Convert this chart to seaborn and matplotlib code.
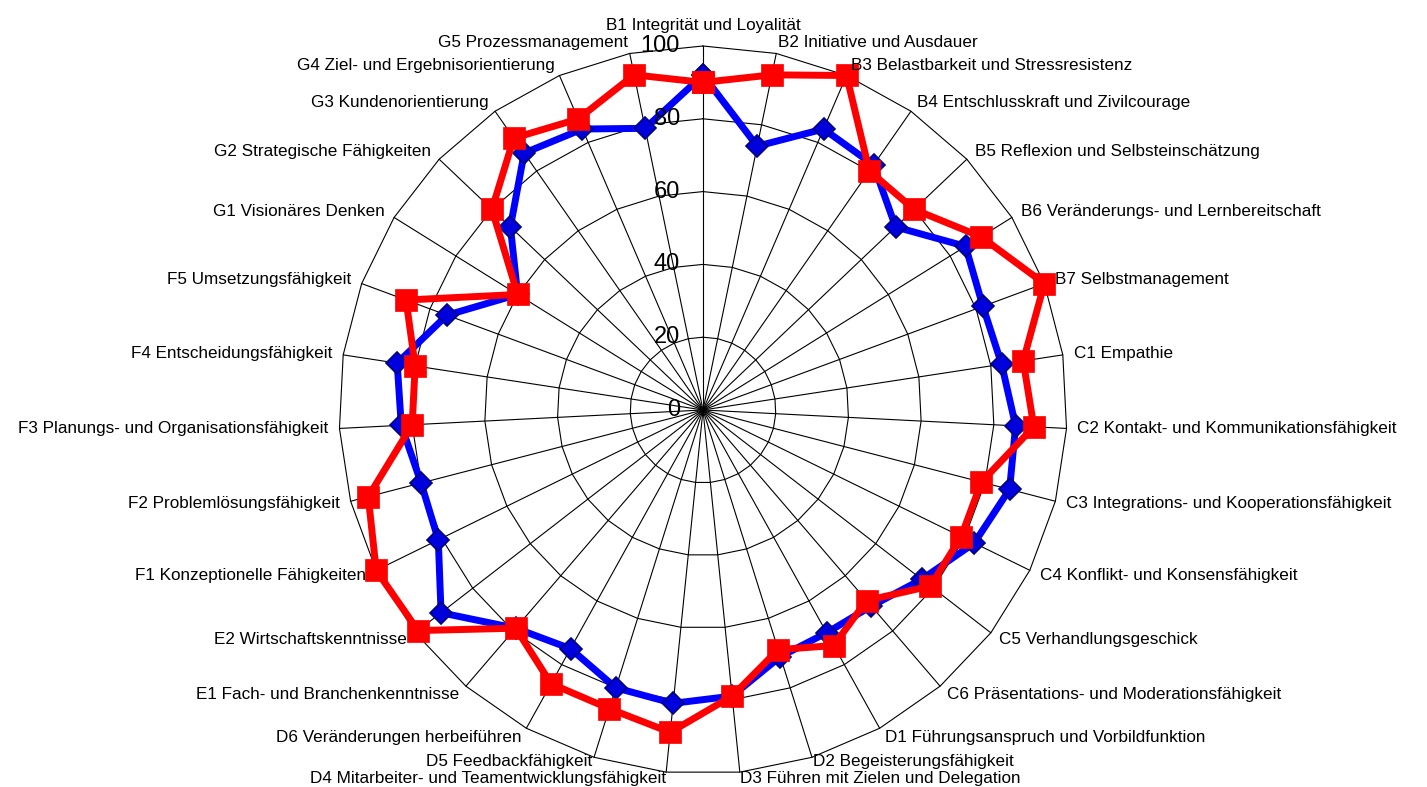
import numpy as np
import pandas as pd
import matplotlib
matplotlib.use("Agg")
import matplotlib.pyplot as plt
import seaborn as sns
from matplotlib.transforms import offset_copy

categories = [
    "B1 Integrität und Loyalität",
    "B2 Initiative und Ausdauer",
    "B3 Belastbarkeit und Stressresistenz",
    "B4 Entschlusskraft und Zivilcourage",
    "B5 Reflexion und Selbsteinschätzung",
    "B6 Veränderungs- und Lernbereitschaft",
    "B7 Selbstmanagement",
    "C1 Empathie",
    "C2 Kontakt- und Kommunikationsfähigkeit",
    "C3 Integrations- und Kooperationsfähigkeit",
    "C4 Konflikt- und Konsensfähigkeit",
    "C5 Verhandlungsgeschick",
    "C6 Präsentations- und Moderationsfähigkeit",
    "D1 Führungsanspruch und Vorbildfunktion",
    "D2 Begeisterungsfähigkeit",
    "D3 Führen mit Zielen und Delegation",
    "D4 Mitarbeiter- und Teamentwicklungsfähigkeit",
    "D5 Feedbackfähigkeit",
    "D6 Veränderungen herbeiführen",
    "E1 Fach- und Branchenkenntnisse",
    "E2 Wirtschaftskenntnisse",
    "F1 Konzeptionelle Fähigkeiten",
    "F2 Problemlösungsfähigkeit",
    "F3 Planungs- und Organisationsfähigkeit",
    "F4 Entscheidungsfähigkeit",
    "F5 Umsetzungsfähigkeit",
    "G1 Visionäres Denken",
    "G2 Strategische Fähigkeiten",
    "G3 Kundenorientierung",
    "G4 Ziel- und Ergebnisorientierung",
    "G5 Prozessmanagement",
]

values_red = [90, 94, 100, 80, 80, 90, 100, 89, 91, 79, 79, 79, 69, 74, 69, 79,
              89, 86, 86, 79, 99, 100, 95, 80, 80, 87, 60, 80, 91, 87, 94]
values_blue = [92, 74, 84, 82, 73, 85, 82, 83, 86, 87, 83, 76, 71, 70, 71, 79,
               81, 80, 75, 79, 91, 81, 80, 83, 85, 75, 60, 73, 86, 84, 79]

r_ticks = [0, 20, 40, 60, 80, 100]
r_tick_labels = ["0", "20", "40", "60", "80", "100"]

sns.set_theme(style="white")
plt.rcParams["font.family"] = ["Liberation Sans", "DejaVu Sans"]

fig = plt.figure(figsize=(14.27, 7.87), dpi=100)
fig.patch.set_facecolor("white")
ax = fig.add_axes([0.23756, 0.01652, 0.51016, 0.92503], projection="polar")
ax.set_theta_zero_location("N")
ax.set_theta_direction(-1)
ax.set_facecolor("white")
ax.grid(False)
ax.spines["polar"].set_visible(False)

n = len(categories)
theta = np.linspace(0, 2 * np.pi, n, endpoint=False)
closed = np.append(theta, 2 * np.pi)

# polygon grid rings
for r in r_ticks[1:]:
    ax.plot(closed, [r] * (n + 1), color="black", lw=0.8, zorder=1, clip_on=False)
# spokes
for t in theta:
    ax.plot([t, t], [0, r_ticks[-1]], color="black", lw=0.8, zorder=1, clip_on=False)

df_blue = pd.DataFrame({"theta": closed, "value": values_blue + [values_blue[0]]})
df_red = pd.DataFrame({"theta": closed, "value": values_red + [values_red[0]]})

sns.lineplot(data=df_blue, x="theta", y="value", ax=ax, sort=False, estimator=None,
             color="#0000FF", lw=5, marker="D", ms=11.5, mfc="#0000DD", mec="#000080",
             mew=1.2, zorder=3, clip_on=False)
sns.lineplot(data=df_red, x="theta", y="value", ax=ax, sort=False, estimator=None,
             color="#FF0000", lw=5, marker="s", ms=16, mfc="#FF0000", mec="#FF0000",
             mew=0.5, zorder=4, clip_on=False)

ax.set_ylim(0, 100)
ax.set_xticks([])
ax.set_yticks([])
ax.set_xlabel("")
ax.set_ylabel("")

# radial tick labels along top spoke
tr = offset_copy(ax.transData, fig=fig, x=-23, y=0, units="dots")
for r, lab in zip(r_ticks, r_tick_labels):
    ax.text(0, r, lab, transform=tr, ha="right", va="center", fontsize=17,
            color="black", zorder=6)

# category labels
for t, lab in zip(theta, categories):
    s, c = np.sin(t), np.cos(t)
    if abs(s) < 0.05:
        ha, va, rr = "center", "bottom", 103.5
    else:
        ha = "left" if s > 0 else "right"
        if c < -0.98:
            va, rr = "top", 99.8
        elif c < -0.94:
            va, rr = "center", 101.3
        else:
            va, rr = "center", 103
    ax.text(t, rr, lab, ha=ha, va=va, fontsize=12.3, color="black", zorder=6)

fig.savefig("out.png", dpi=100, facecolor="white")
